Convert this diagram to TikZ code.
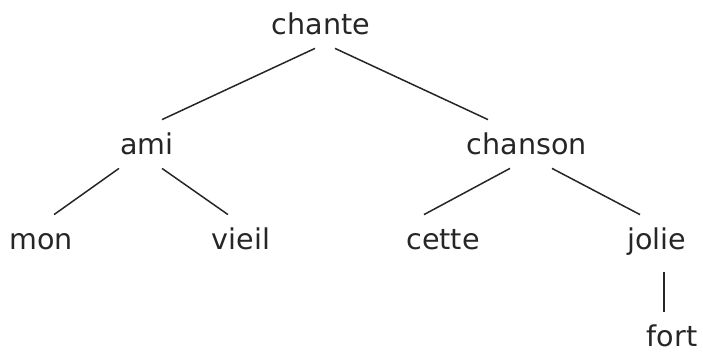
\documentclass[tikz,border=0pt]{standalone}
\usepackage{fontspec}
\setmainfont{DejaVu Sans}
\usepackage{tikz}
\usetikzlibrary{positioning}

\begin{document}
\begin{tikzpicture}[x=0.5pt,y=-0.5pt,
    word/.style={anchor=base,inner xsep=0pt,inner ysep=6.5pt,
        text height=11pt,text depth=0pt,font=\fontsize{14.3}{16}\selectfont,text=black!85},
    branch/.style={line width=0.75pt,black!85}]
                \useasboundingbox (0,0) rectangle (703,352);
                % words
                \node[word] (chante) at (321,35) {chante};
                \node[word] (ami) at (147,155) {ami};
                \node[word] (chanson) at (527,155) {chanson};
                \node[word] (mon) at (41,250) {mon};
                \node[word] (vieil) at (241,250) {vieil};
                \node[word] (cette) at (443,250) {cette};
                \node[word] (jolie) at (657,250) {jolie};
                \node[word] (fort) at (672,347) {fort};
                % branches
                \draw[branch] ([shift={(-6,0)}]chante.south) -- ([shift={(15,0)}]ami.north);
                \draw[branch] ([shift={(14,0)}]chante.south) -- ([shift={(-39,0)}]chanson.north);
                \draw[branch] ([shift={(-28,0)}]ami.south) -- ([shift={(13,0)}]mon.north);
                \draw[branch] ([shift={(15,0)}]ami.south) -- ([shift={(-13,0)}]vieil.north);
                \draw[branch] ([shift={(-17,0)}]chanson.south) -- ([shift={(-19,0)}]cette.north);
                \draw[branch] ([shift={(25,0)}]chanson.south) -- ([shift={(-17,0)}]jolie.north);
                \draw[branch] ([shift={(7,9)}]jolie.south) -- ([shift={(-8,0)}]fort.north);
\end{tikzpicture}
\end{document}
